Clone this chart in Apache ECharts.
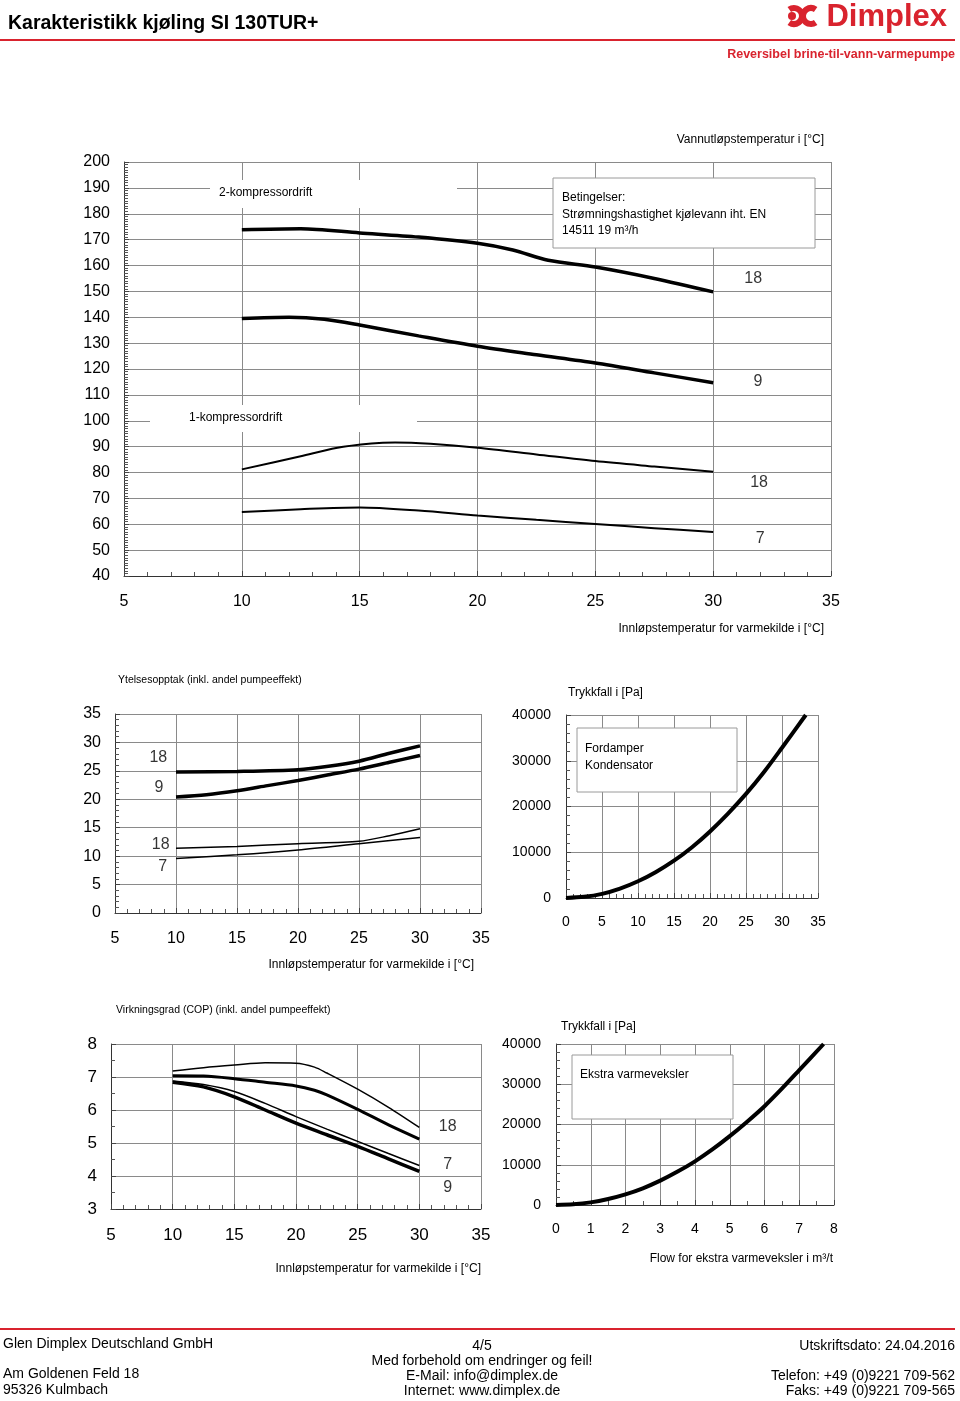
<!DOCTYPE html>
<html><head><meta charset="utf-8">
<script src="https://cdn.jsdelivr.net/npm/echarts@6/dist/echarts.min.js"></script>
<style>html,body{margin:0;padding:0;background:#fff}#c{width:960px;height:1401px}</style>
</head><body><div id="c"></div>
<script>
// ---------- DATA ----------
// Cooling capacity (kW) vs source inlet temperature, top chart
const capTwo18 = [[10,173.8],[12.5,174.2],[15,172.6],[17.5,171],[20,168.6],[21.5,166],[23,162],[25,159.4],[27.5,155],[30,149.8]];
const capTwo9  = [[10,139.5],[12,140],[13.5,139.2],[15,137],[17.5,132.8],[20,128.8],[22.5,125.5],[25,122.3],[27.5,118.5],[30,114.7]];
const capOne18 = [[10,81.2],[12.5,86.3],[14,89.5],[15.5,91.2],[16.5,91.6],[18,91.1],[20,89.6],[22.5,87],[25,84.4],[27.5,82.3],[30,80.3]];
const capOne7  = [[10,64.7],[12.5,65.8],[15,66.5],[17.5,65.3],[20,63.4],[22.5,61.7],[25,60.1],[27.5,58.5],[30,57]];
const capLabels = [[31.7,154.8,'18'],[31.9,115,'9'],[31.95,76,'18'],[32,54.3,'7']];

// Power input (kW)
const powTwo18 = [[10,24.8],[15,24.9],[20,25.2],[22.5,25.8],[25,26.7],[27.5,28.1],[30,29.4]];
const powTwo9  = [[10,20.4],[12.5,20.8],[15,21.5],[17.5,22.4],[20,23.3],[22.5,24.3],[25,25.3],[27.5,26.5],[30,27.7]];
const powOne18 = [[10,11.4],[15,11.7],[20,12.2],[25,12.6],[27.5,13.6],[30,14.8]];
const powOne7  = [[10,9.6],[15,10.25],[20,11.1],[25,12.2],[30,13.3]];
const powLabels = [[8.55,27.3,'18'],[8.6,22,'9'],[8.75,12,'18'],[8.9,8.1,'7']];

// Pressure drop evaporator / condenser (Pa) vs flow
const dpMain = [[0,0],[2.5,250],[5,900],[7.5,2050],[10,3650],[12.5,5700],[15,8150],[17.5,11100],[20,14550],[22.5,18450],[25,22750],[27.5,27550],[30,32850],[33.3,40000]];

// COP
const copTwo18 = [[10,7.18],[12.5,7.28],[15,7.36],[17.5,7.43],[20,7.42],[21.5,7.3],[22.5,7.12],[25,6.63],[27.5,6.08],[30,5.47]];
const copOne18 = [[10,7.04],[12.5,7.03],[15,6.95],[17.5,6.84],[20,6.73],[21.5,6.6],[22.5,6.46],[25,6.02],[27.5,5.55],[30,5.12]];
const copOne7  = [[10,6.88],[12.5,6.77],[15,6.56],[17.5,6.2],[20,5.8],[22.5,5.42],[25,5.05],[27.5,4.68],[30,4.32]];
const copTwo9  = [[10,6.84],[12.5,6.7],[15,6.4],[17.5,6.0],[20,5.6],[22.5,5.25],[25,4.9],[27.5,4.52],[30,4.14]];
const copLabels = [[32.3,5.49,'18'],[32.3,4.34,'7'],[32.3,3.64,'9']];

// Pressure drop extra heat exchanger
const dpExtra = [[0,0],[0.5,170],[1,650],[1.5,1500],[2,2650],[2.5,4150],[3,6050],[3.5,8300],[4,10850],[4.5,13800],[5,17100],[5.5,20700],[6,24550],[6.5,28900],[7,33500],[7.7,40000]];

// ---------- CHART ----------
const FF = 'Liberation Sans, Arial, sans-serif';
const grids = [
  {left:124, top:162, width:707, height:414},
  {left:115, top:714, width:366, height:199},
  {left:566, top:715, width:252, height:183},
  {left:111, top:1044, width:370, height:165},
  {left:556, top:1044, width:278, height:161}
];
function ax(gi,min,max,interval,fs,minor,margin,pad){
  return {type:'value',gridIndex:gi,min,max,interval,
    axisLine:{show:true,onZero:false,lineStyle:{color:'#333',width:1}},
    axisTick:{show:true,inside:true,length:5,lineStyle:{color:'#444'}},
    minorTick:{show:true,splitNumber:minor,length:4,lineStyle:{color:'#555'}},
    splitLine:{show:true,lineStyle:{color:'#8a8a8a',width:1}},
    axisLabel:{fontSize:fs,color:'#000',margin:margin,fontFamily:FF,
      padding:pad||0,formatter:v=>String(v)}};
}
function line(gi,data,w){
  return {type:'line',xAxisIndex:gi,yAxisIndex:gi,data,smooth:0.3,symbol:'none',
    lineStyle:{color:'#000',width:w},silent:true,z:5};
}
function labels(gi,data,fs){
  return {type:'scatter',xAxisIndex:gi,yAxisIndex:gi,data,symbolSize:1,
    itemStyle:{color:'rgba(0,0,0,0)'},silent:true,
    label:{show:true,position:'inside',formatter:p=>p.data[2],fontSize:fs,color:'#000',fontFamily:FF}};
}
function txt(x,y,s,fs,opt){
  return {type:'text',x:x,y:y,z:110,style:Object.assign({text:s,fill:'#000',font:fs+'px '+FF,textVerticalAlign:'middle',textAlign:'left'},opt||{})};
}
function box(x,y,w,h,stroke){
  return {type:'rect',z:100,shape:{x,y,width:w,height:h},style:{fill:'#fff',stroke:stroke||null,lineWidth:1}};
}
const RED = '#d9232e';
const chart = echarts.init(document.getElementById('c'),null,{renderer:'canvas'});
chart.setOption({
  animation:false,
  backgroundColor:'#fff',
  grid:grids,
  xAxis:[
    ax(0,5,35,5,16,5,18),
    ax(1,5,35,5,16,5,18),
    ax(2,0,35,5,14,5,17),
    ax(3,5,35,5,17,5,18),
    ax(4,0,8,1,14,2,17)
  ],
  yAxis:[
    ax(0,40,200,10,16,10,14,[3,0,0,0]),
    ax(1,0,35,5,16,5,14,[2,0,0,0]),
    ax(2,0,40000,10000,14,5,15,[1,0,0,0]),
    ax(3,3,8,1,17,2,14,[1,0,0,0]),
    ax(4,0,40000,10000,14,5,15,[1,0,0,0])
  ],
  series:[
    line(0,capTwo18,3.5), line(0,capTwo9,3.5), line(0,capOne18,2), line(0,capOne7,2),
    labels(0,capLabels,16),
    line(1,powTwo18,3.5), line(1,powTwo9,3.5), line(1,powOne18,1.5), line(1,powOne7,1.5),
    labels(1,powLabels,16),
    line(2,dpMain,4),
    line(3,copTwo18,1.5), line(3,copOne18,3), line(3,copOne7,1.5), line(3,copTwo9,3.5),
    labels(3,copLabels,16),
    line(4,dpExtra,4)
  ],
  graphic:[
    // header
    txt(8,24,'Karakteristikk kjøling SI 130TUR+',19.5,{font:'bold 19.5px '+FF}),
    {type:'line',z:100,shape:{x1:0,y1:40,x2:955,y2:40},style:{stroke:RED,lineWidth:2}},
    txt(947,17,'Dimplex',31,{font:'bold 31px '+FF,fill:RED,textAlign:'right'}),
    {type:'arc',z:100,shape:{cx:794,cy:16,r:8,startAngle:-2.2,endAngle:2.2},style:{stroke:RED,lineWidth:6,fill:null}},
    {type:'circle',z:100,shape:{cx:792,cy:16,r:4},style:{fill:RED}},
    {type:'arc',z:100,shape:{cx:811,cy:16,r:8,startAngle:0.95,endAngle:5.33},style:{stroke:RED,lineWidth:6,fill:null}},
    txt(955,55,'Reversibel brine-til-vann-varmepumpe',12.5,{font:'bold 12.5px '+FF,fill:RED,textAlign:'right'}),
    // top chart annotations
    txt(824,140,'Vannutløpstemperatur i [°C]',12,{textAlign:'right'}),
    box(210,180,247,28),
    txt(219,193,'2-kompressordrift',12),
    box(150,405,267,27),
    txt(189,418,'1-kompressordrift',12),
    box(553,178,262,70,'#9a9a9a'),
    txt(562,198,'Betingelser:',12),
    txt(562,215,'Strømningshastighet kjølevann iht. EN',12),
    txt(562,231,'14511 19 m³/h',12),
    txt(824,629,'Innløpstemperatur for varmekilde i [°C]',12,{textAlign:'right'}),
    // middle left
    txt(118,680,'Ytelsesopptak (inkl. andel pumpeeffekt)',10.5),
    txt(474,965,'Innløpstemperatur for varmekilde i [°C]',12,{textAlign:'right'}),
    // middle right
    txt(568,693,'Trykkfall i [Pa]',12),
    box(577,728,160,64,'#9a9a9a'),
    txt(585,749,'Fordamper',12),
    txt(585,766,'Kondensator',12),
    // bottom left
    txt(116,1010,'Virkningsgrad (COP) (inkl. andel pumpeeffekt)',10.5),
    txt(481,1269,'Innløpstemperatur for varmekilde i [°C]',12,{textAlign:'right'}),
    // bottom right
    txt(561,1027,'Trykkfall i [Pa]',12),
    box(572,1055,161,64,'#9a9a9a'),
    txt(580,1075,'Ekstra varmeveksler',12),
    txt(833,1259,'Flow for ekstra varmeveksler i m³/t',12,{textAlign:'right'}),
    // footer
    {type:'line',z:100,shape:{x1:0,y1:1329,x2:955,y2:1329},style:{stroke:RED,lineWidth:2}},
    txt(3,1344,'Glen Dimplex Deutschland GmbH',14),
    txt(3,1374,'Am Goldenen Feld 18',14),
    txt(3,1390,'95326 Kulmbach',14),
    txt(482,1346,'4/5',14,{textAlign:'center'}),
    txt(482,1361,'Med forbehold om endringer og feil!',14,{textAlign:'center'}),
    txt(482,1376,'E-Mail: info@dimplex.de',14,{textAlign:'center'}),
    txt(482,1391,'Internet: www.dimplex.de',14,{textAlign:'center'}),
    txt(955,1346,'Utskriftsdato: 24.04.2016',14,{textAlign:'right'}),
    txt(955,1376,'Telefon: +49 (0)9221 709-562',14,{textAlign:'right'}),
    txt(955,1391,'Faks: +49 (0)9221 709-565',14,{textAlign:'right'})
  ]
});
</script>
</body></html>
